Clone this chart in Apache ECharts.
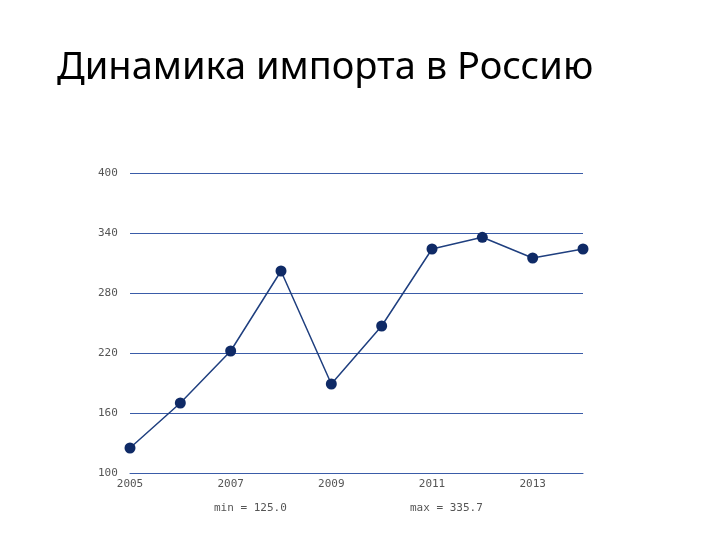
<!DOCTYPE html>
<html>
<head>
<meta charset="utf-8">
<script src="https://cdn.jsdelivr.net/npm/echarts@6/dist/echarts.min.js"></script>
<style>
  body { margin: 0; background: #fff; }
  #chart { width: 720px; height: 540px; }
</style>
</head>
<body>
<div id="chart"></div>
<script>
const years = ['2005', '2006', '2007', '2008', '2009', '2010', '2011', '2012', '2013', '2014'];
const imports = [125.0, 170, 222, 302, 189, 247, 324, 335.7, 315, 324];
const yTicks = { min: 100, max: 400, step: 60 };
const footer = ['min = 125.0', 'max = 335.7'];

const chart = echarts.init(document.getElementById('chart'));

const option = {
    animation: false,
    title: {
        text: 'Динамика импорта в Россию',
        left: 52,
        top: 44,
        textStyle: { fontFamily: 'Noto Sans', fontWeight: 'normal', fontSize: 38, color: '#000' }
    },
    grid: { left: 130, right: 137, top: 173, bottom: 67 },
    xAxis: {
        type: 'category',
        boundaryGap: false,
        data: years,
        axisLine: { lineStyle: { color: '#3a5ca8', width: 1 } },
        axisTick: { show: false },
        axisLabel: {
            interval: 1,
            fontFamily: 'DejaVu Sans Mono',
            fontSize: 11,
            color: '#555',
            margin: 6
        }
    },
    yAxis: {
        type: 'value',
        min: yTicks.min,
        max: yTicks.max,
        interval: yTicks.step,
        axisLine: { show: false },
        axisTick: { show: false },
        splitLine: { show: true, lineStyle: { color: '#3a5ca8', width: 1, opacity: 1 } },
        axisLabel: {
            align: 'left',
            margin: 32,
            verticalAlign: 'middle',
            fontFamily: 'DejaVu Sans Mono',
            fontSize: 11,
            color: '#555'
        }
    },
    graphic: [
        { type: 'text', left: 214, top: 503, style: { text: footer[0], font: '11px "DejaVu Sans Mono"', fill: '#555' } },
        { type: 'text', left: 410, top: 503, style: { text: footer[1], font: '11px "DejaVu Sans Mono"', fill: '#555' } }
    ],
    series: [{
        type: 'line',
        data: imports,
        symbol: 'circle',
        symbolSize: 11,
        lineStyle: { color: '#1f3f7f', width: 1.5 },
        itemStyle: { color: '#0f2a66' }
    }]
};

chart.setOption(option);
</script>
</body>
</html>
